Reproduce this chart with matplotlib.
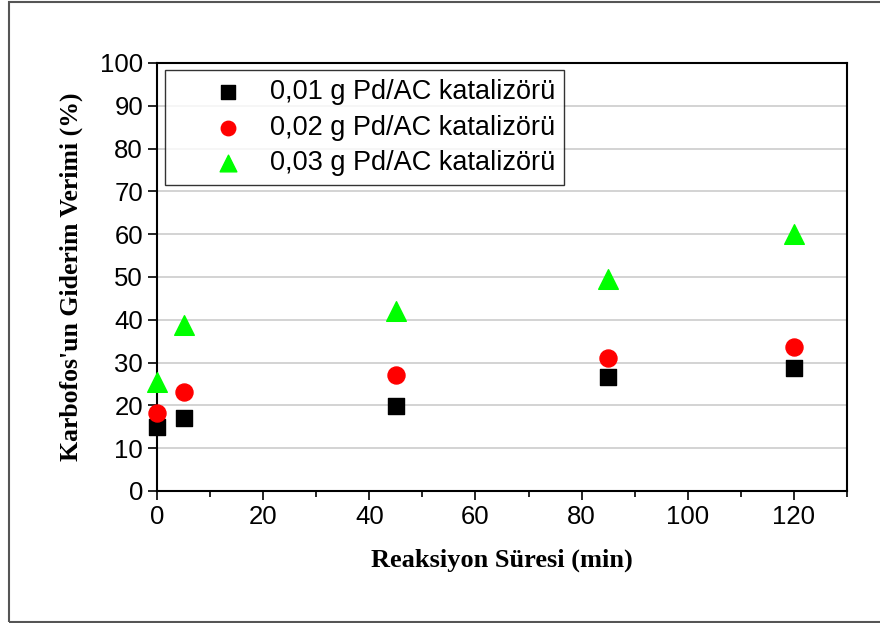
import matplotlib.pyplot as plt
from matplotlib.patches import Rectangle
from matplotlib.ticker import MultipleLocator

# data
sure = [0, 5, 45, 85, 120]
verim_001 = [15.0, 17.1, 19.9, 26.7, 28.8]
verim_002 = [18.3, 23.1, 27.2, 31.1, 33.7]
verim_003 = [25.4, 38.9, 42.0, 49.5, 60.0]
etiketler = ['0,01 g Pd/AC katalizörü', '0,02 g Pd/AC katalizörü', '0,03 g Pd/AC katalizörü']

fig = plt.figure(figsize=(8.8, 6.23), dpi=100)
ax = fig.add_axes([157 / 880, 1 - 491 / 623, (847 - 157) / 880, (491 - 63) / 623])

ax.scatter(sure, verim_001, marker='s', s=130, color='black', label=etiketler[0], zorder=3, clip_on=False)
ax.scatter(sure, verim_002, marker='o', s=150, color='#ff0000', label=etiketler[1], zorder=3, clip_on=False)
ax.scatter(sure, verim_003, marker='^', s=200, color='#00ff00', label=etiketler[2], zorder=3, clip_on=False)

ax.set_xlim(0, 130)
ax.set_ylim(0, 100)
ax.xaxis.set_major_locator(MultipleLocator(20))
ax.xaxis.set_minor_locator(MultipleLocator(10))
ax.yaxis.set_major_locator(MultipleLocator(10))
ax.grid(axis='y', color='#cccccc', linewidth=1.2, zorder=0)
ax.set_axisbelow(True)

ax.tick_params(axis='both', which='major', direction='out', length=6.5, width=1.2, labelsize=18.5, pad=3.5)
ax.tick_params(axis='x', which='minor', direction='out', length=4.5, width=1.2)
for lab in ax.get_xticklabels() + ax.get_yticklabels():
    lab.set_family('Liberation Sans')
for sp in ax.spines.values():
    sp.set_linewidth(1.5)

ax.set_xlabel('Reaksiyon Süresi (min)', family='Liberation Serif', fontweight='bold', fontsize=19, labelpad=14)
ax.set_ylabel("Karbofos'un Giderim Verimi (%)", family='Liberation Serif', fontweight='bold', fontsize=18.5, labelpad=12)

leg = ax.legend(loc='upper left', bbox_to_anchor=(8 / 690, 1 - 7 / 428), prop={'family': 'Liberation Sans', 'size': 19.5},
                frameon=True, fancybox=False, borderpad=0.33, labelspacing=0.36, handlelength=4.0,
                handletextpad=-0.45, borderaxespad=0, markerscale=0.85)
leg.get_frame().set_edgecolor('black')
leg.get_frame().set_linewidth(1.0)

# outer frame of the figure
fig.patches.append(Rectangle((8.5 / 880, 1.5 / 623), 1.0, 619.5 / 623, transform=fig.transFigure,
                             fill=False, edgecolor='#555555', linewidth=1.5))

plt.savefig('out.png', dpi=100)
